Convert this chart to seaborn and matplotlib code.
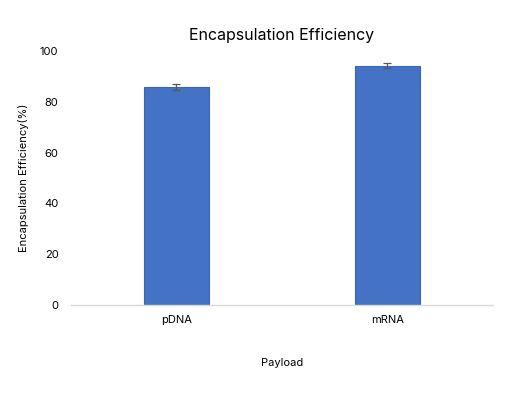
import matplotlib
matplotlib.use("Agg")
import matplotlib.pyplot as plt
import seaborn as sns
import pandas as pd

payloads = ["pDNA", "mRNA"]
efficiency = [85.8, 94.2]
errors = [1.3, 1.0]

df = pd.DataFrame({"Payload": payloads, "Efficiency": efficiency})

sns.set_style("white")
plt.rcParams["font.family"] = ["Inter", "DejaVu Sans"]
plt.rcParams["text.color"] = "black"
plt.rcParams["axes.labelcolor"] = "black"

fig = plt.figure(figsize=(5.25, 3.95), dpi=100)
ax = fig.add_axes([0.135, 0.228, 0.804, 0.643])

sns.barplot(x="Payload", y="Efficiency", data=df, color="#4472C4",
            edgecolor="#3A66B8", linewidth=0.8, width=0.31, saturation=1,
            errorbar=None, ax=ax, zorder=2)
ax.errorbar(range(len(payloads)), efficiency, yerr=errors, fmt="none",
            ecolor="#595959", elinewidth=0.9, capsize=3, capthick=0.9, zorder=3)

ax.set_xlim(-0.5, 1.5)
ax.set_ylim(0, 100)
ax.set_yticks([0, 20, 40, 60, 80, 100])
ax.tick_params(axis="both", length=0, labelsize=8, colors="#000000")
ax.tick_params(axis="y", pad=9)
ax.tick_params(axis="x", pad=7)

for s in ["top", "right", "left"]:
    ax.spines[s].set_visible(False)
ax.spines["bottom"].set_color("#D9D9D9")
ax.spines["bottom"].set_linewidth(1)

ax.set_title("Encapsulation Efficiency", fontsize=11.5, pad=8, color="black")
ax.set_ylabel("Encapsulation Efficiency(%)", fontsize=8, labelpad=8)
ax.set_xlabel("Payload", fontsize=8, labelpad=24)

fig.savefig("out.png", dpi=100)
